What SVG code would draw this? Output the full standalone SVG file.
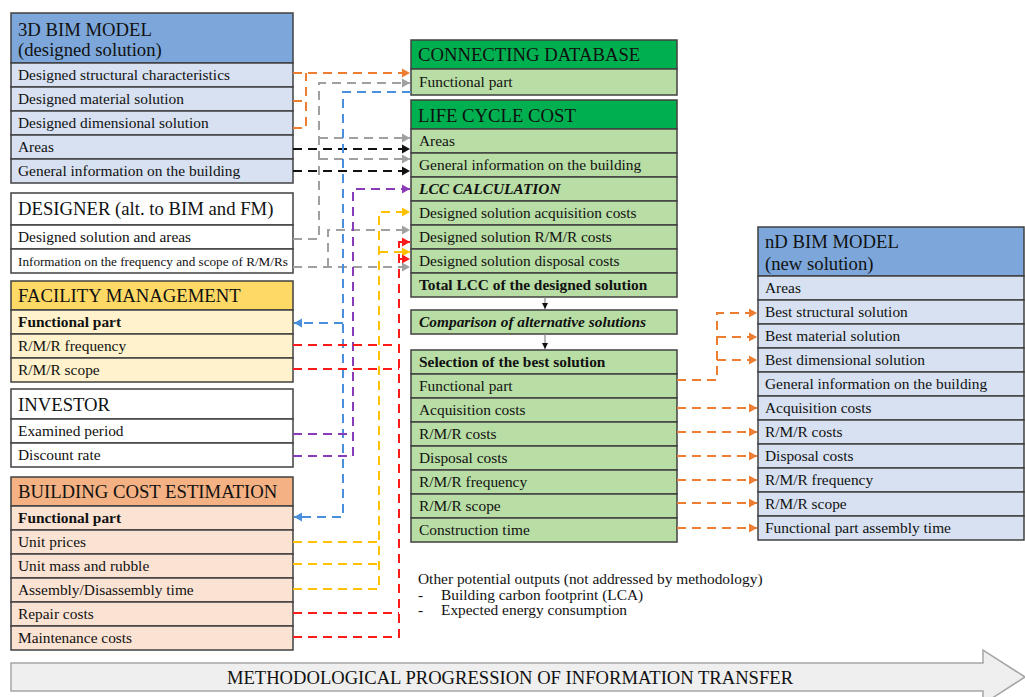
<svg xmlns="http://www.w3.org/2000/svg" width="1025" height="697" viewBox="0 0 1025 697">
<defs>
<style>
.t{font-family:"Liberation Serif","Times New Roman",serif;font-size:15.4px;fill:#111}
.s{font-size:13.2px}
.h{font-family:"Liberation Serif","Times New Roman",serif;font-size:18.7px;fill:#111}
.b{font-weight:bold}
.i{font-style:italic}
.bx{stroke:#404040;stroke-width:1.5}
.bh{fill:#7DA7DA}.bl{fill:#D7E1F1}
.gh{fill:#00B050}.gl{fill:#B8DDA5}
.yh{fill:#FFD966}.yl{fill:#FFF2CC}
.oh{fill:#F4B183}.ol{fill:#FBE3D4}
.w{fill:#FFFFFF}
.c{fill:none;stroke-width:2;stroke-dasharray:9 6}
.or{stroke:#ED7D31}.gr{stroke:#A0A0A0}.bk{stroke:#111}.bu{stroke:#4A8FDB}.pu{stroke:#8A3BB8}.go{stroke:#FFC000}.re{stroke:#FF1A1A}
</style>
<marker id="aor" markerWidth="10" markerHeight="10" refX="9" refY="5" orient="auto" markerUnits="userSpaceOnUse"><path d="M1,0.5 L9,5 L1,9.5 Z" fill="#ED7D31"/></marker>
<marker id="agr" markerWidth="10" markerHeight="10" refX="9" refY="5" orient="auto" markerUnits="userSpaceOnUse"><path d="M1,0.5 L9,5 L1,9.5 Z" fill="#A0A0A0"/></marker>
<marker id="abk" markerWidth="10" markerHeight="10" refX="9" refY="5" orient="auto" markerUnits="userSpaceOnUse"><path d="M1,0.5 L9,5 L1,9.5 Z" fill="#111"/></marker>
<marker id="abu" markerWidth="10" markerHeight="10" refX="9" refY="5" orient="auto" markerUnits="userSpaceOnUse"><path d="M1,0.5 L9,5 L1,9.5 Z" fill="#4A8FDB"/></marker>
<marker id="apu" markerWidth="10" markerHeight="10" refX="9" refY="5" orient="auto" markerUnits="userSpaceOnUse"><path d="M1,0.5 L9,5 L1,9.5 Z" fill="#8A3BB8"/></marker>
<marker id="ago" markerWidth="10" markerHeight="10" refX="9" refY="5" orient="auto" markerUnits="userSpaceOnUse"><path d="M1,0.5 L9,5 L1,9.5 Z" fill="#FFC000"/></marker>
<marker id="are" markerWidth="10" markerHeight="10" refX="9" refY="5" orient="auto" markerUnits="userSpaceOnUse"><path d="M1,0.5 L9,5 L1,9.5 Z" fill="#FF1A1A"/></marker>
<marker id="asm" markerWidth="8" markerHeight="8" refX="7" refY="4" orient="auto" markerUnits="userSpaceOnUse"><path d="M1,1 L7,4 L1,7 Z" fill="#111"/></marker>
</defs>
<rect width="1025" height="697" fill="#FFFFFF"/>

<g id="bim3d">
<rect class="bx bh" x="11" y="13" width="282" height="50"/>
<text class="h" x="18" y="36">3D BIM MODEL</text>
<text class="h" x="18" y="56">(designed solution)</text>
<rect class="bx bl" x="11" y="63" width="282" height="24"/><text class="t" x="18" y="80">Designed structural characteristics</text>
<rect class="bx bl" x="11" y="87" width="282" height="24"/><text class="t" x="18" y="104">Designed material solution</text>
<rect class="bx bl" x="11" y="111" width="282" height="24"/><text class="t" x="18" y="128">Designed dimensional solution</text>
<rect class="bx bl" x="11" y="135" width="282" height="24"/><text class="t" x="18" y="152">Areas</text>
<rect class="bx bl" x="11" y="159" width="282" height="24"/><text class="t" x="18" y="176">General information on the building</text>
</g>

<g id="designer">
<rect class="bx w" x="11" y="193" width="282" height="32"/>
<text class="h" x="18" y="215">DESIGNER (alt. to BIM and FM)</text>
<rect class="bx w" x="11" y="225" width="282" height="24"/><text class="t" x="18" y="242">Designed solution and areas</text>
<rect class="bx w" x="11" y="249" width="282" height="24"/><text class="t s" x="18" y="266">Information on the frequency and scope of R/M/Rs</text>
</g>

<g id="fm">
<rect class="bx yh" x="11" y="281" width="282" height="29"/>
<text class="h" x="18" y="302">FACILITY MANAGEMENT</text>
<rect class="bx yl" x="11" y="310" width="282" height="24"/><text class="t b" x="18" y="327">Functional part</text>
<rect class="bx yl" x="11" y="334" width="282" height="24"/><text class="t" x="18" y="351">R/M/R frequency</text>
<rect class="bx yl" x="11" y="358" width="282" height="24"/><text class="t" x="18" y="375">R/M/R scope</text>
</g>

<g id="investor">
<rect class="bx w" x="11" y="389" width="282" height="30"/>
<text class="h" x="18" y="411">INVESTOR</text>
<rect class="bx w" x="11" y="419" width="282" height="24"/><text class="t" x="18" y="436">Examined period</text>
<rect class="bx w" x="11" y="443" width="282" height="24"/><text class="t" x="18" y="460">Discount rate</text>
</g>

<g id="bce">
<rect class="bx oh" x="11" y="477" width="282" height="29"/>
<text class="h" x="18" y="498">BUILDING COST ESTIMATION</text>
<rect class="bx ol" x="11" y="506" width="282" height="24"/><text class="t b" x="18" y="523">Functional part</text>
<rect class="bx ol" x="11" y="530" width="282" height="24"/><text class="t" x="18" y="547">Unit prices</text>
<rect class="bx ol" x="11" y="554" width="282" height="24"/><text class="t" x="18" y="571">Unit mass and rubble</text>
<rect class="bx ol" x="11" y="578" width="282" height="24"/><text class="t" x="18" y="595">Assembly/Disassembly time</text>
<rect class="bx ol" x="11" y="602" width="282" height="24"/><text class="t" x="18" y="619">Repair costs</text>
<rect class="bx ol" x="11" y="626" width="282" height="24"/><text class="t" x="18" y="643">Maintenance costs</text>
</g>

<g id="cdb">
<rect class="bx gh" x="411" y="40" width="266" height="29"/>
<text class="h" x="418" y="61">CONNECTING DATABASE</text>
<rect class="bx gl" x="411" y="69" width="266" height="26"/><text class="t" x="419" y="87">Functional part</text>
</g>

<g id="lcc">
<rect class="bx gh" x="411" y="100" width="266" height="29"/>
<text class="h" x="418" y="122">LIFE CYCLE COST</text>
<rect class="bx gl" x="411" y="129" width="266" height="24"/><text class="t" x="419" y="146">Areas</text>
<rect class="bx gl" x="411" y="153" width="266" height="24"/><text class="t" x="419" y="170">General information on the building</text>
<rect class="bx gl" x="411" y="177" width="266" height="24"/><text class="t b i" x="419" y="194">LCC CALCULATION</text>
<rect class="bx gl" x="411" y="201" width="266" height="24"/><text class="t" x="419" y="218">Designed solution acquisition costs</text>
<rect class="bx gl" x="411" y="225" width="266" height="24"/><text class="t" x="419" y="242">Designed solution R/M/R costs</text>
<rect class="bx gl" x="411" y="249" width="266" height="24"/><text class="t" x="419" y="266">Designed solution disposal costs</text>
<rect class="bx gl" x="411" y="273" width="266" height="24"/><text class="t b" x="419" y="290">Total LCC of the designed solution</text>
</g>

<g id="comparison">
<rect class="bx gl" x="411" y="310" width="266" height="24"/><text class="t b i" x="419" y="327">Comparison of alternative solutions</text>
</g>

<g id="selection">
<rect class="bx gl" x="411" y="350" width="266" height="24"/><text class="t b" x="419" y="367">Selection of the best solution</text>
<rect class="bx gl" x="411" y="374" width="266" height="24"/><text class="t" x="419" y="391">Functional part</text>
<rect class="bx gl" x="411" y="398" width="266" height="24"/><text class="t" x="419" y="415">Acquisition costs</text>
<rect class="bx gl" x="411" y="422" width="266" height="24"/><text class="t" x="419" y="439">R/M/R costs</text>
<rect class="bx gl" x="411" y="446" width="266" height="24"/><text class="t" x="419" y="463">Disposal costs</text>
<rect class="bx gl" x="411" y="470" width="266" height="24"/><text class="t" x="419" y="487">R/M/R frequency</text>
<rect class="bx gl" x="411" y="494" width="266" height="24"/><text class="t" x="419" y="511">R/M/R scope</text>
<rect class="bx gl" x="411" y="518" width="266" height="24"/><text class="t" x="419" y="535">Construction time</text>
</g>

<g id="bimnd">
<rect class="bx bh" x="758" y="227" width="266" height="49"/>
<text class="h" x="765" y="248">nD BIM MODEL</text>
<text class="h" x="765" y="270">(new solution)</text>
<rect class="bx bl" x="758" y="276" width="266" height="24"/><text class="t" x="765" y="293">Areas</text>
<rect class="bx bl" x="758" y="300" width="266" height="24"/><text class="t" x="765" y="317">Best structural solution</text>
<rect class="bx bl" x="758" y="324" width="266" height="24"/><text class="t" x="765" y="341">Best material solution</text>
<rect class="bx bl" x="758" y="348" width="266" height="24"/><text class="t" x="765" y="365">Best dimensional solution</text>
<rect class="bx bl" x="758" y="372" width="266" height="24"/><text class="t" x="765" y="389">General information on the building</text>
<rect class="bx bl" x="758" y="396" width="266" height="24"/><text class="t" x="765" y="413">Acquisition costs</text>
<rect class="bx bl" x="758" y="420" width="266" height="24"/><text class="t" x="765" y="437">R/M/R costs</text>
<rect class="bx bl" x="758" y="444" width="266" height="24"/><text class="t" x="765" y="461">Disposal costs</text>
<rect class="bx bl" x="758" y="468" width="266" height="24"/><text class="t" x="765" y="485">R/M/R frequency</text>
<rect class="bx bl" x="758" y="492" width="266" height="24"/><text class="t" x="765" y="509">R/M/R scope</text>
<rect class="bx bl" x="758" y="516" width="266" height="24"/><text class="t" x="765" y="533">Functional part assembly time</text>
</g>

<g id="other-outputs">
<text class="t" x="418" y="584">Other potential outputs (not addressed by methodology)</text>
<text class="t" x="418" y="600">-</text><text class="t" x="441" y="600">Building carbon footprint (LCA)</text>
<text class="t" x="418" y="615">-</text><text class="t" x="441" y="615">Expected energy consumption</text>
</g>

<g id="progression">
<path d="M11,663 H983 V650 L1025,677 L983,704 V691 H11 Z" fill="#EFEFEF" stroke="#A6A6A6" stroke-width="1.5"/>
<text x="510" y="684" text-anchor="middle" font-family="'Liberation Serif','Times New Roman',serif" font-size="18.6" fill="#111">METHODOLOGICAL PROGRESSION OF INFORMATION TRANSFER</text>
</g>

<g id="connectors">
<path class="c or" d="M293,73 H410" marker-end="url(#aor)"/>
<path class="c or" d="M293,128 H306 V73"/>
<path class="c or" d="M293,101 H306"/>
<path class="c gr" d="M293,239 H319 V83 H410" marker-end="url(#agr)"/>
<path class="c gr" d="M319,138 H410" marker-end="url(#agr)"/>
<path class="c gr" d="M319,159 H410" marker-end="url(#agr)"/>
<path class="c gr" d="M293,267 H410" marker-end="url(#agr)"/>
<path class="c gr" d="M328,267 V230 H410" marker-end="url(#agr)"/>
<path class="c bk" d="M293,149 H410" marker-end="url(#abk)"/>
<path class="c bk" d="M293,171 H410" marker-end="url(#abk)"/>
<path class="c bu" d="M411,92 H343 V517 H294" marker-end="url(#abu)"/>
<path class="c bu" d="M343,323 H294" marker-end="url(#abu)"/>
<path class="c pu" d="M293,456 H353 V189 H410" marker-end="url(#apu)"/>
<path class="c pu" d="M293,434 H353"/>
<path class="c go" d="M293,589 H379 V212 H410" marker-end="url(#ago)"/>
<path class="c go" d="M293,564 H379"/>
<path class="c go" d="M293,542 H379"/>
<path class="c go" d="M379,252 H410" marker-end="url(#ago)"/>
<path class="c re" d="M293,637 H399 V242 H410" marker-end="url(#are)"/>
<path class="c re" d="M293,613 H399"/>
<path class="c re" d="M293,369 H399"/>
<path class="c re" d="M293,345 H399"/>
<path class="c re" d="M399,259 H410" marker-end="url(#are)"/>
<path d="M545,297 V309" stroke="#888" stroke-width="1.2" fill="none" marker-end="url(#asm)"/>
<path d="M545,334 V349" stroke="#888" stroke-width="1.2" fill="none" marker-end="url(#asm)"/>
<path class="c or" d="M677,380 H717 V313 H757" marker-end="url(#aor)"/>
<path class="c or" d="M717,337 H757" marker-end="url(#aor)"/>
<path class="c or" d="M717,360 H757" marker-end="url(#aor)"/>
<path class="c or" d="M677,408 H757" marker-end="url(#aor)"/>
<path class="c or" d="M677,432 H757" marker-end="url(#aor)"/>
<path class="c or" d="M677,456 H757" marker-end="url(#aor)"/>
<path class="c or" d="M677,480 H757" marker-end="url(#aor)"/>
<path class="c or" d="M677,503 H757" marker-end="url(#aor)"/>
<path class="c or" d="M677,528 H757" marker-end="url(#aor)"/>
</g>
</svg>
